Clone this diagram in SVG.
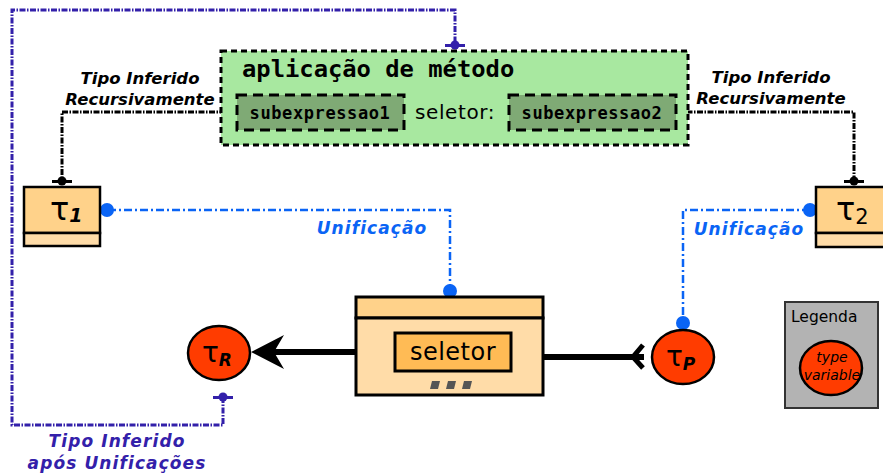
<svg xmlns="http://www.w3.org/2000/svg" width="883" height="474" viewBox="0 0 883 474">
<style>
.lbl{font-family:"DejaVu Sans",sans-serif;font-weight:bold;font-style:italic;font-size:16.5px;text-anchor:middle}
.lbl2{font-size:17px;letter-spacing:1.1px}
.mono{font-family:"DejaVu Sans Mono",monospace;font-weight:bold}
.comic{font-family:"DejaVu Sans",sans-serif}
.blk{fill:none;stroke:#000;stroke-width:3;stroke-dasharray:6,1.5,1.5,1.5}
.blu{fill:none;stroke:#0a64f5;stroke-width:2.5;stroke-dasharray:8,3,2,3}
.pur{fill:none;stroke:#3320aa;stroke-width:3;stroke-dasharray:6,1.5,1.5,1.5}
.tvar{fill:#ff3c00;stroke:#000;stroke-width:2.5}
</style>
<rect width="883" height="474" fill="#fff"/>
<g id="connectors">
  <polyline class="pur" points="223,397 223,425 12,425 12,10 455,10 455,44"/>
  <polyline class="blk" points="236,112 62,112 62,181"/>
  <polyline class="blk" points="676,112 854,112 854,181"/>
  <polyline class="blu" points="108,210 450,210 450,291"/>
  <polyline class="blu" points="810,210 683,210 683,322"/>
  <line x1="356" y1="352" x2="270" y2="352" stroke="#000" stroke-width="6"/>
  <path d="M251,352 L284,335 L274,352 L284,369 Z" fill="#000"/>
  <line x1="543" y1="357" x2="644" y2="357" stroke="#000" stroke-width="6"/>
  <polyline points="643,345 633,357 643,368" fill="none" stroke="#000" stroke-width="5"/>
  <g fill="#000">
    <circle cx="62" cy="181" r="4.5"/><rect x="52" y="180" width="20" height="3"/>
    <circle cx="854" cy="181" r="4.5"/><rect x="844" y="180" width="20" height="3"/>
    <rect x="235" y="106" width="3" height="14"/>
    <rect x="675" y="106" width="3" height="14"/>
  </g>
  <g fill="#3320aa">
    <circle cx="223" cy="397" r="4.5"/><rect x="213" y="396" width="20" height="3"/>
    <circle cx="455" cy="45" r="4.5"/><rect x="445" y="44" width="20" height="3"/>
  </g>
  <g fill="#0a64f5">
    <circle cx="107" cy="210" r="7"/>
    <circle cx="450" cy="291" r="7"/>
    <circle cx="810" cy="210" r="7"/>
    <circle cx="683" cy="323" r="7"/>
  </g>
  <g class="lbl">
    <text x="140" y="84">Tipo Inferido</text>
    <text x="140" y="105">Recursivamente</text>
    <text x="771" y="83">Tipo Inferido</text>
    <text x="771" y="104">Recursivamente</text>
    <text x="372" y="234" fill="#0a64f5" class="lbl2">Unificação</text>
    <text x="749" y="235" fill="#0a64f5" class="lbl2">Unificação</text>
    <text x="117" y="447" fill="#3320aa" class="lbl2">Tipo Inferido</text>
    <text x="117" y="469" fill="#3320aa" class="lbl2">após Unificações</text>
  </g>
</g>
<g id="aplicacao">
  <rect x="221" y="51" width="467" height="94" fill="#a8e8a0" stroke="#000" stroke-width="3" stroke-dasharray="6,4"/>
  <text x="242" y="77" class="mono" font-size="23.8">aplicação de método</text>
  <g id="sub1">
    <rect x="237" y="95" width="167" height="35" fill="#7faa75" stroke="#000" stroke-width="3" stroke-dasharray="10,6"/>
    <text x="320" y="119" class="mono" font-size="17" letter-spacing="0.6" text-anchor="middle">subexpressao1</text>
  </g>
  <text x="455" y="119" class="comic" font-size="20" letter-spacing="0.6" text-anchor="middle">seletor:</text>
  <g id="sub2">
    <rect x="509" y="95" width="167" height="35" fill="#7faa75" stroke="#000" stroke-width="3" stroke-dasharray="10,6"/>
    <text x="592" y="119" class="mono" font-size="17" letter-spacing="0.6" text-anchor="middle">subexpressao2</text>
  </g>
</g>
<g id="tau1">
  <rect x="24" y="187" width="76" height="46" fill="#ffd28a" stroke="#000" stroke-width="2.5"/>
  <rect x="24" y="233" width="76" height="13" fill="#ffdca8" stroke="#000" stroke-width="2.5"/>
  <text x="50" y="220" class="comic" font-size="32">τ<tspan font-size="19" font-style="italic" font-weight="bold" dy="2">1</tspan></text>
</g>
<g id="tau2">
  <rect x="816" y="187" width="72" height="46" fill="#ffd28a" stroke="#000" stroke-width="2.5"/>
  <rect x="816" y="233" width="72" height="14" fill="#ffdca8" stroke="#000" stroke-width="2.5"/>
  <text x="836" y="220" class="comic" font-size="32">τ<tspan font-size="21" dy="4">2</tspan></text>
</g>
<g id="seletor">
  <rect x="356" y="297" width="187" height="21" fill="#ffd28a" stroke="#000" stroke-width="3"/>
  <rect x="356" y="318" width="187" height="77" fill="#ffdca8" stroke="#000" stroke-width="3"/>
  <rect x="395" y="333" width="116" height="38" fill="#ffbb55" stroke="#000" stroke-width="3"/>
  <text x="453" y="360" class="comic" font-size="24" letter-spacing="0.5" text-anchor="middle">seletor</text>
  <g fill="#555">
    <path d="M432,381h8l-2,8h-8z"/><path d="M448,381h8l-2,8h-8z"/><path d="M464,381h8l-2,8h-8z"/>
  </g>
</g>
<g id="tauR">
  <ellipse cx="219" cy="353" rx="31" ry="27" class="tvar"/>
  <text x="202" y="362" class="comic" font-size="28">τ<tspan font-size="17" font-style="italic" font-weight="bold" dy="4">R</tspan></text>
</g>
<g id="tauP">
  <ellipse cx="683" cy="357" rx="31" ry="27" class="tvar"/>
  <text x="666" y="366" class="comic" font-size="28">τ<tspan font-size="17" font-style="italic" font-weight="bold" dy="4">P</tspan></text>
</g>
<g id="legenda">
  <rect x="785" y="302" width="93" height="106" fill="#b3b3b3" stroke="#333" stroke-width="2"/>
  <text x="791" y="322" font-family="DejaVu Sans,sans-serif" font-size="15.5">Legenda</text>
  <ellipse cx="831" cy="368" rx="31" ry="27" class="tvar"/>
  <text x="832" y="362" font-family="DejaVu Sans,sans-serif" font-style="italic" font-size="14" text-anchor="middle">type</text>
  <text x="832" y="380" font-family="DejaVu Sans,sans-serif" font-style="italic" font-size="14" text-anchor="middle">variable</text>
</g>
</svg>
